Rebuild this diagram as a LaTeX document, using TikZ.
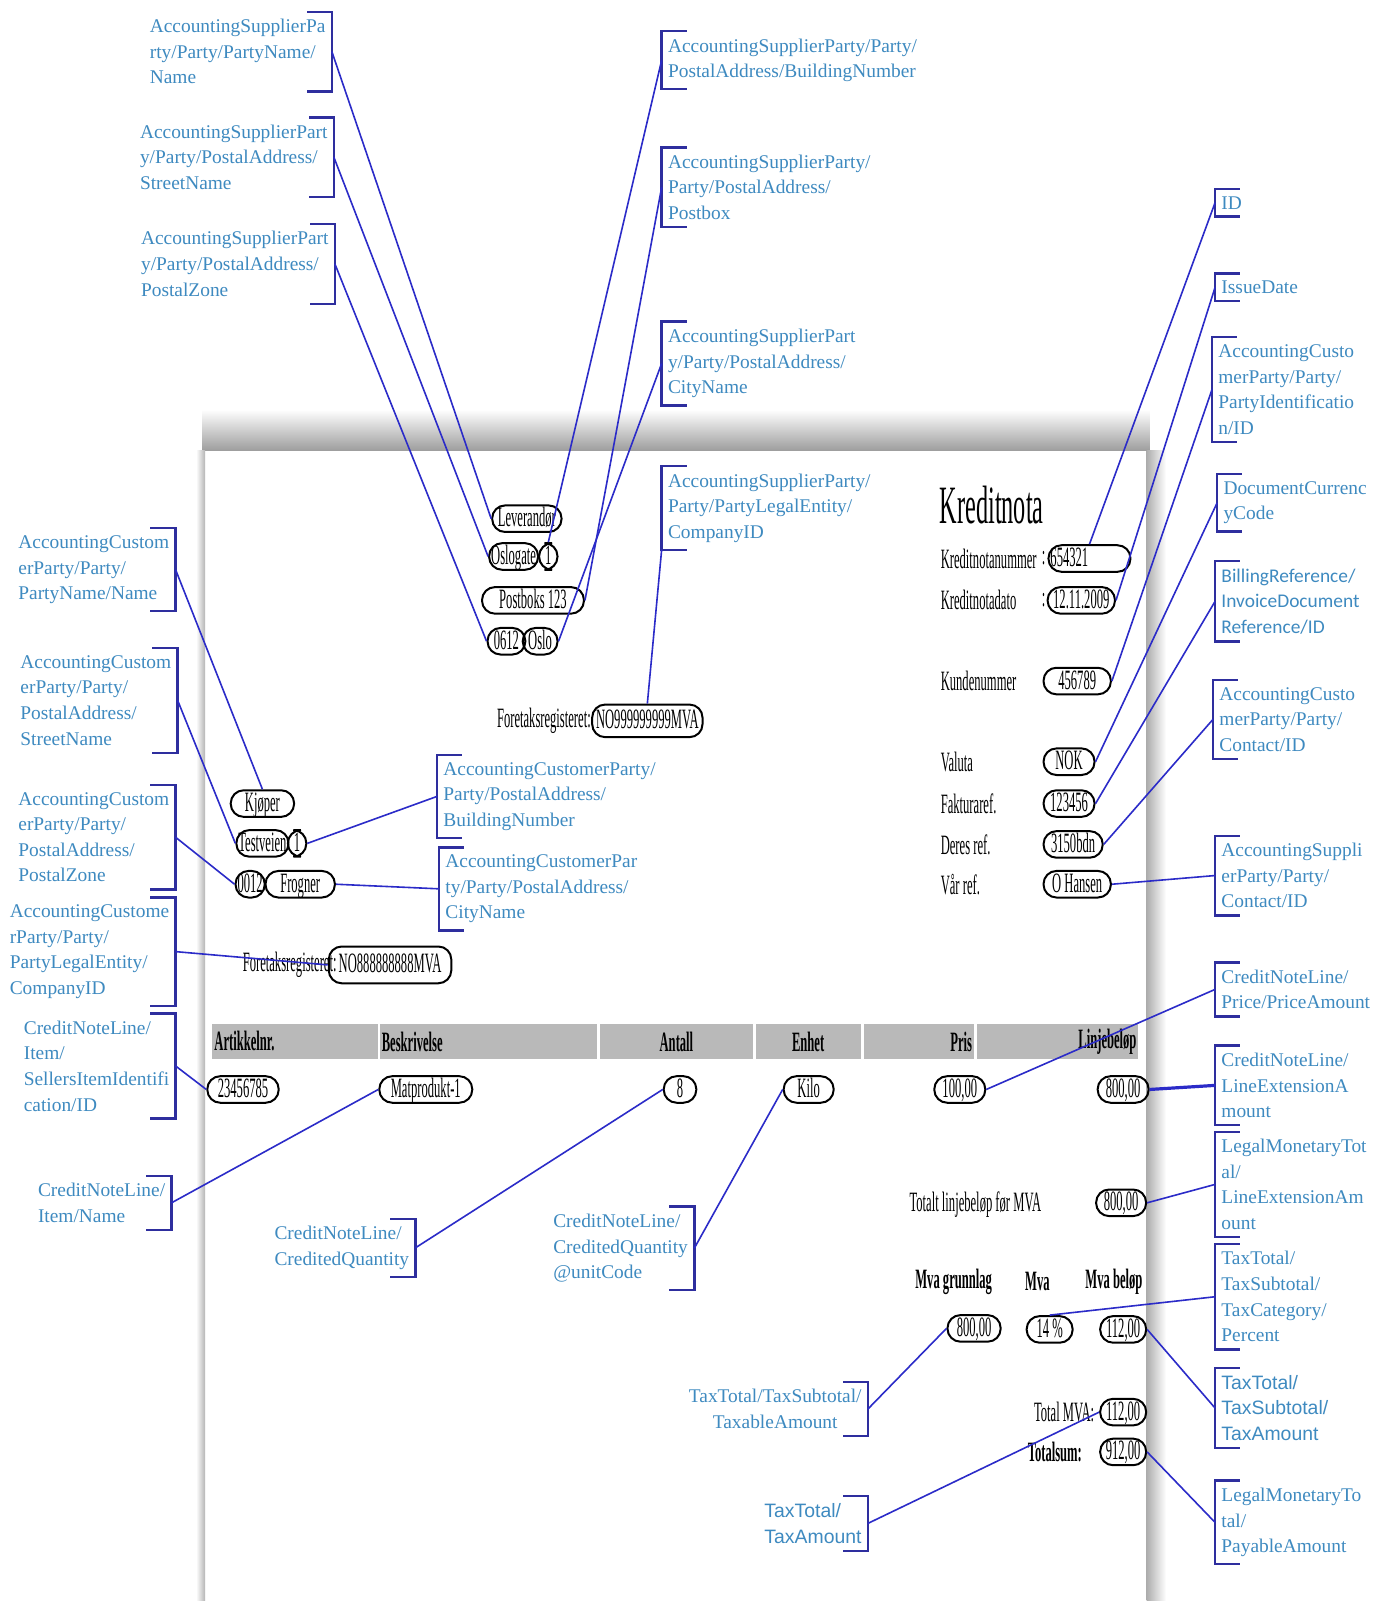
\documentclass[tikz,border=0pt]{standalone}
\usepackage{fontspec}
\setmainfont{Liberation Serif}
\newfontfamily\formfont[FakeStretch=0.45]{Liberation Serif}
\newfontfamily\tagsans{Liberation Sans}
\newfontfamily\tagcal{Carlito}
\usetikzlibrary{positioning}

\definecolor{tagblue}{HTML}{3E8AC0}
\definecolor{linkblue}{HTML}{2B2BC8}
\definecolor{brkblue}{HTML}{2E2E9E}
\definecolor{headgray}{HTML}{B9B9B9}

\tikzset{
  brk/.style={draw=brkblue, line width=1.2pt, line cap=rect},
  link/.style={draw=linkblue, line width=0.8pt},
  tagleft/.style={text=tagblue, align=left, anchor=west, inner xsep=3pt, inner ysep=3.5pt,
    font=\fontsize{9.7}{12.8}\selectfont,
    append after command={
      ([xshift=12pt]\tikzlastnode.north west) edge[brk] (\tikzlastnode.north west)
      (\tikzlastnode.north west) edge[brk] (\tikzlastnode.south west)
      (\tikzlastnode.south west) edge[brk] ([xshift=12pt]\tikzlastnode.south west)}},
  tagright/.style={text=tagblue, align=left, anchor=east, inner xsep=3pt, inner ysep=3.5pt,
    font=\fontsize{9.7}{12.8}\selectfont,
    append after command={
      ([xshift=-12pt]\tikzlastnode.north east) edge[brk] (\tikzlastnode.north east)
      (\tikzlastnode.north east) edge[brk] (\tikzlastnode.south east)
      (\tikzlastnode.south east) edge[brk] ([xshift=-12pt]\tikzlastnode.south east)}},
  field/.style={draw, line width=1pt, rounded corners=6.5pt, minimum height=13.3pt,
    inner xsep=1pt, inner ysep=0pt, text height=9pt, text depth=1pt,
    font=\formfont\fontsize{14}{14}\selectfont},
  form/.style={anchor=west, inner sep=0pt, font=\formfont\fontsize{14}{14}\selectfont},
  formbold/.style={inner sep=0pt, font=\formfont\bfseries\fontsize{14}{14}\selectfont},
  hcell/.style={fill=headgray, minimum height=17.4pt, inner xsep=1pt, inner ysep=0pt,
    font=\formfont\bfseries\fontsize{14}{14}\selectfont},
}

\begin{document}
\begin{tikzpicture}[x=0.5107pt, y=-0.5107pt]
\useasboundingbox (0,0) rectangle (1359,1568);
\fill[white] (0,0) rectangle (1359,1568);

% page shadow
\shade[top color=white, bottom color=black!38] (198,401) rectangle (1126,441);
\shade[left color=black!32, right color=white] (1123,441) rectangle (1142,1568);
\shade[left color=white, right color=black!30] (192,441) rectangle (201,1568);

% supplier
\node (lev) at (516,508) [field, minimum width=34.7pt] {Leverandør};
\node (sgate) at (503,545) [field, minimum width=24.5pt] {Oslogate};
\node (snr) at (537,545) [field, minimum width=9.2pt] {1};
\node (sbox) at (522,588) [field, minimum width=51pt] {Postboks 123};
\node (szip) at (496,628) [field, minimum width=18.9pt] {0612};
\node (scity) at (529,628) [field, minimum width=17.4pt] {Oslo};
\node (sorg) at (634,706) [field, minimum width=55.2pt, minimum height=16.3pt] {NO999999999MVA};
\node (sorgtxt) at (sorg.west) [form, anchor=east] {Foretaksregisteret:};

% customer
\node (kjop) at (257,787) [field, minimum width=31.7pt] {Kjøper};
\node (kgate) at (257,826) [field, minimum width=25.5pt] {Testveien};
\node (knr) at (291,826) [field, minimum width=9.2pt] {1};
\node (kzip) at (245,866) [field, minimum width=13.3pt] {0012};
\node (kcity) at (294,866) [field, minimum width=34.7pt] {Frogner};
\node (korgtxt) at (330,945) [form, anchor=east] {Foretaksregisteret:};
\node (korg) at (382,945) [field, minimum width=61.3pt, minimum height=18.4pt] {NO888888888MVA};

% document head
\node (title) at (920,495) [form, font=\formfont\fontsize{27}{27}\selectfont] {Kreditnota};
\node (tnr) at (921,547) [form] {Kreditnotanummer};
\node (cnr) at (1020,547) [form] {:};
\node (kno) at (1067,547) [field, text width=39pt, align=left] {654321};
\node (tdato) at (921,588) [form] {Kreditnotadato};
\node (cdato) at (1020,588) [form] {:};
\node (kdato) at (1059,588) [field, minimum width=33.7pt] {12.11.2009};
\node (tkunde) at (921,667) [form] {Kundenummer};
\node (kunde) at (1055,667) [field, minimum width=33.7pt] {456789};
\node (tval) at (921,746) [form] {Valuta};
\node (valuta) at (1047,746) [field, minimum width=25.5pt] {NOK};
\node (tfref) at (921,787) [form] {Fakturaref.};
\node (fref) at (1047,787) [field, minimum width=25.5pt] {123456};
\node (tdref) at (921,827) [form] {Deres ref.};
\node (dref) at (1051,827) [field, minimum width=29.6pt] {3150bdn};
\node (tvref) at (921,866) [form] {Vår ref.};
\node (vref) at (1055,866) [field, minimum width=33.7pt] {O Hansen};

% table head
\node (hart) at (289,1020) [hcell, text width=80.7pt, align=left] {Artikkelnr.};
\node (hbes) at (478.5,1020) [hcell, text width=106.8pt, align=left] {Beskrivelse};
\node (hant) at (662.5,1020) [hcell, text width=74.1pt, align=center] {Antall};
\node (henh) at (791.5,1020) [hcell, text width=50.6pt, align=center] {Enhet};
\node (hpris) at (900,1020) [hcell, text width=53.2pt, align=right] {Pris};
\node (hsum) at (1036,1020) [hcell, text width=78.7pt, align=right] {Linjebeløp};

% table line
\node (artnr) at (238,1067) [field, minimum width=35.7pt] {23456785};
\node (beskr) at (417,1067) [field, minimum width=46.5pt] {Matprodukt-1};
\node (antall) at (666,1067) [field, minimum width=16.3pt] {8};
\node (enhet) at (792,1067) [field, minimum width=25pt] {Kilo};
\node (pris) at (940,1067) [field, minimum width=25.5pt] {100,00};
\node (linje) at (1100,1067) [field, minimum width=25.5pt] {800,00};

% totals
\node (ttot) at (1020,1180) [form, anchor=east] {Totalt linjebeløp før MVA};
\node (tot) at (1098,1178) [field, minimum width=25pt] {800,00};
\node (hgrl) at (934,1255) [formbold] {Mva grunnlag};
\node (hmva) at (1016,1255) [formbold] {Mva};
\node (hmvab) at (1091,1255) [formbold] {Mva beløp};
\node (grl) at (954,1301) [field, minimum width=26.6pt] {800,00};
\node (mva) at (1028,1302) [field, minimum width=23pt] {14 \%};
\node (mvab) at (1100,1302) [field, minimum width=23pt] {112,00};
\node (ttmva) at (1072,1383) [form, anchor=east] {Total MVA:};
\node (tmva) at (1100,1383) [field, minimum width=23pt] {112,00};
\node (ttsum) at (1060,1422) [formbold, anchor=east] {Totalsum:};
\node (tsum) at (1100,1422) [field, minimum width=23pt] {912,00};

% supplier tags
\node (sname) at (325,50.5) [tagright] {AccountingSupplierPa\\rty/Party/PartyName/\\Name};
\node (sstreet) at (327,154) [tagright] {AccountingSupplierPart\\y/Party/PostalAddress/\\StreetName};
\node (szone) at (328,258.5) [tagright] {AccountingSupplierPart\\y/Party/PostalAddress/\\PostalZone};
\node (sbuild) at (648,59) [tagleft] {AccountingSupplierParty/Party/\\PostalAddress/BuildingNumber};
\node (spbox) at (648,183.5) [tagleft] {AccountingSupplierParty/\\Party/PostalAddress/\\Postbox};
\node (stown) at (648,356) [tagleft] {AccountingSupplierPart\\y/Party/PostalAddress/\\CityName};
\node (scomp) at (648,497.5) [tagleft] {AccountingSupplierParty/\\Party/PartyLegalEntity/\\CompanyID};

% head tags
\node (xid) at (1190,198.5) [tagleft] {ID};
\node (xdate) at (1190,281.5) [tagleft] {IssueDate};
\node (xcust) at (1187,381.5) [tagleft] {AccountingCusto\\merParty/Party/\\PartyIdentificatio\\n/ID};
\node (xcur) at (1192,492.5) [tagleft] {DocumentCurrenc\\yCode};
\node (xbill) at (1190,589) [tagleft, font=\tagcal\fontsize{9.7}{12.8}\selectfont] {BillingReference/\\InvoiceDocument\\Reference/ID};
\node (xcref) at (1188,704.5) [tagleft] {AccountingCusto\\merParty/Party/\\Contact/ID};
\node (xsref) at (1190,857.5) [tagleft] {AccountingSuppli\\erParty/Party/\\Contact/ID};

% line and total tags
\node (xprice) at (1190,969) [tagleft] {CreditNoteLine/\\Price/PriceAmount};
\node (xlext) at (1190,1063) [tagleft] {CreditNoteLine/\\LineExtensionA\\mount};
\node (xtlext) at (1190,1160) [tagleft] {LegalMonetaryTot\\al/\\LineExtensionAm\\ount};
\node (xpct) at (1190,1270) [tagleft] {TaxTotal/\\TaxSubtotal/\\TaxCategory/\\Percent};
\node (xsubtax) at (1190,1379) [tagleft, font=\tagsans\fontsize{9.7}{12.8}\selectfont] {TaxTotal/\\TaxSubtotal/\\TaxAmount};
\node (xpay) at (1190,1491) [tagleft] {LegalMonetaryTo\\tal/\\PayableAmount};

% customer tags
\node (cname) at (172,558) [tagright] {AccountingCustom\\erParty/Party/\\PartyName/Name};
\node (cstreet) at (174,686) [tagright] {AccountingCustom\\erParty/Party/\\PostalAddress/\\StreetName};
\node (czone) at (172,820) [tagright] {AccountingCustom\\erParty/Party/\\PostalAddress/\\PostalZone};
\node (ccomp) at (172,932) [tagright] {AccountingCustome\\rParty/Party/\\PartyLegalEntity/\\CompanyID};
\node (citem) at (172,1044) [tagright] {CreditNoteLine/\\Item/\\SellersItemIdentifi\\cation/ID};
\node (cdesc) at (168,1178) [tagright] {CreditNoteLine/\\Item/Name};
\node (cbuild) at (428,780) [tagleft] {AccountingCustomerParty/\\Party/PostalAddress/\\BuildingNumber};
\node (ctown) at (430,870.5) [tagleft] {AccountingCustomerPar\\ty/Party/PostalAddress/\\CityName};

% lower tags
\node (qty) at (407,1222) [tagright] {CreditNoteLine/\\CreditedQuantity};
\node (unit) at (680,1222.5) [tagright] {CreditNoteLine/\\CreditedQuantity\\@unitCode};
\node (taxbase) at (850,1380) [tagright, align=center] {TaxTotal/TaxSubtotal/\\TaxableAmount};
\node (taxsum) at (850,1492) [tagright, font=\tagsans\fontsize{9.7}{12.8}\selectfont] {TaxTotal/\\TaxAmount};

% connectors
\draw[link] (sname.east) -- (lev.west);
\draw[link] (sstreet.east) -- (sgate.west);
\draw[link] (szone.east) -- (szip.west);
\draw[link] (sbuild.west) -- (snr.north);
\draw[link] (spbox.west) -- (sbox.east);
\draw[link] (stown.west) -- (scity.east);
\draw[link] (scomp.south west) -- (sorg.north);
\draw[link] (xid.west) -- (kno.north);
\draw[link] (xdate.west) -- (kdato.east);
\draw[link] (xcust.west) -- (kunde.east);
\draw[link] (xcur.west) -- (valuta.east);
\draw[link] (xbill.west) -- (fref.east);
\draw[link] (xcref.west) -- (dref.east);
\draw[link] (xsref.west) -- (vref.east);
\draw[link] (xprice.west) -- (pris.east);
\draw[link, line width=1.6pt] (xlext.west) -- (linje.east);
\draw[link] (xtlext.west) -- (tot.east);
\draw[link] (xpct.west) -- (mva.north);
\draw[link] (xsubtax.west) -- (mvab.east);
\draw[link] (xpay.west) -- (tsum.east);
\draw[link] (cname.east) -- (kjop.north);
\draw[link] (cstreet.east) -- (kgate.west);
\draw[link] (czone.east) -- (kzip.west);
\draw[link] (ccomp.east) -- (korg.west);
\draw[link] (citem.east) -- (artnr.west);
\draw[link] (cdesc.east) -- (beskr.west);
\draw[link] (cbuild.west) -- (knr.east);
\draw[link] (ctown.west) -- (kcity.east);
\draw[link] (qty.east) -- (antall.west);
\draw[link] (unit.east) -- (enhet.west);
\draw[link] (taxbase.east) -- (grl.west);
\draw[link] (taxsum.east) -- (tmva.west);

\end{tikzpicture}
\end{document}
